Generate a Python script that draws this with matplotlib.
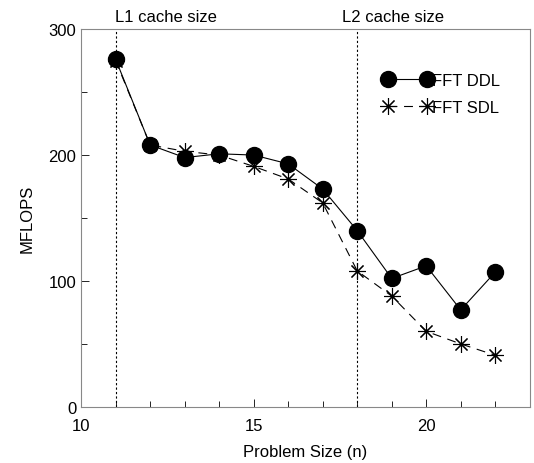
import matplotlib
matplotlib.use("Agg")
import matplotlib.pyplot as plt
from matplotlib.ticker import MultipleLocator

plt.rcParams['font.family'] = ['Liberation Sans', 'DejaVu Sans']

n = [11, 12, 13, 14, 15, 16, 17, 18, 19, 20, 21, 22]
ddl = [276, 208, 198, 201, 200, 193, 173, 140, 102, 112, 77, 107]
sdl = [275, 208, 203, 200, 191, 181, 162, 108, 88, 60, 50, 41]
cache_x = [11, 18]
cache_labels = ["L1 cache size", "L2 cache size"]
label_x = [12.46, 19.05]

fig = plt.figure(figsize=(5.34, 4.64), dpi=100)
ax = fig.add_axes([0.152, 0.121, 0.84, 0.814])

ax.plot(n, ddl, color='black', lw=0.8, marker='o', markersize=11.5,
        markerfacecolor='black', label='FFT DDL')
ax.plot(n, sdl, color='black', lw=0.8, dashes=(8, 6), marker=(8, 2, 0),
        markersize=12, markeredgewidth=0.8, label='FFT SDL')

for cx, lab, lx in zip(cache_x, cache_labels, label_x):
    ax.axvline(cx, color='black', lw=0.8, ls=(0, (2, 2)))
    ax.text(lx, 304, lab, ha='center', va='bottom', fontsize=12)

ax.set_xlim(10, 23)
ax.set_ylim(0, 300)
ax.xaxis.set_major_locator(MultipleLocator(5))
ax.xaxis.set_minor_locator(MultipleLocator(1))
ax.yaxis.set_major_locator(MultipleLocator(100))
ax.yaxis.set_minor_locator(MultipleLocator(50))
ax.tick_params(which='both', direction='in', labelsize=12, colors='black')
ax.tick_params(which='major', length=6, width=0.6)
ax.tick_params(which='minor', length=4, width=0.6)
ax.tick_params(axis='x', pad=8)
for s in ax.spines.values():
    s.set_color('#888888')
    s.set_linewidth(0.8)

ax.set_xlabel('Problem Size (n)', fontsize=12, labelpad=8)
ax.set_ylabel('MFLOPS', fontsize=12, labelpad=10)

leg = ax.legend(loc='upper left', bbox_to_anchor=(0.674, 0.885), frameon=False,
                fontsize=12, handlelength=2.9, handletextpad=0.02,
                labelspacing=0.75, numpoints=2, borderpad=0, borderaxespad=0)

fig.savefig('out.png', dpi=100)
